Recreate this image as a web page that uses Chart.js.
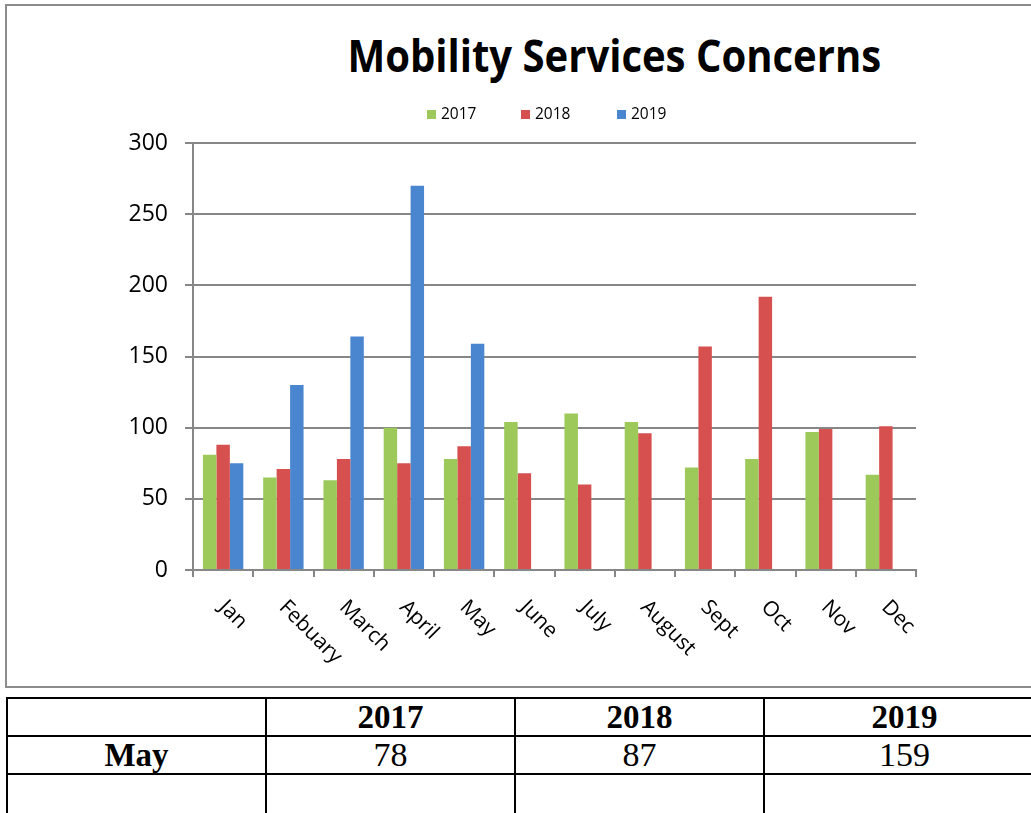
<!DOCTYPE html>
<html>
<head>
<meta charset="utf-8">
<script src="https://cdn.jsdelivr.net/npm/chart.js@4.4.1/dist/chart.umd.min.js"></script>
<style>
  html, body { margin: 0; padding: 0; background: #fff; overflow: hidden; }
  body { width: 1031px; height: 813px; position: relative; }
  #frame { position: absolute; left: 5px; top: 4px; width: 1040px; height: 684px; border: 2px solid #8c8c8c; box-sizing: border-box; }
  #title { position: absolute; left: 0; top: 25px; width: 1228px; text-align: center; font: bold 44px "Open Sans", sans-serif; color: #000; white-space: nowrap; }
  #title span { display: inline-block; transform-origin: center; }
  #box { position: absolute; left: 7px; top: 6px; width: 1024px; height: 682px; }
  table { position: absolute; left: 6px; top: 697px; width: 1040px; table-layout: fixed; border-collapse: collapse; font-family: "Liberation Serif", "Times New Roman", serif; }
  td { border: 2px solid #000; height: 36px; padding: 0; text-align: center; font-size: 34px; line-height: 34px; }
  td.h { font-weight: bold; font-size: 33px; }
</style>
</head>
<body>
<div id="frame"></div>
<div id="title"><span id="tt">Mobility Services Concerns</span></div>
<div id="box"><canvas id="chart"></canvas></div>
<table>
  <colgroup><col style="width:259px"><col style="width:249px"><col style="width:249px"><col></colgroup>
  <tr><td></td><td class="h">2017</td><td class="h">2018</td><td class="h">2019</td></tr>
  <tr><td class="h">May</td><td>78</td><td>87</td><td>159</td></tr>
  <tr><td style="height:40px"></td><td></td><td></td><td></td></tr>
</table>
<script>
const months = ['Jan', 'Febuary', 'March', 'April', 'May', 'June', 'July', 'August', 'Sept', 'Oct', 'Nov', 'Dec']
const years = ['2017', '2018', '2019']
const values2017 = [81, 65, 63, 100, 78, 104, 110, 104, 72, 78, 97, 67]
const values2018 = [88, 71, 78, 75, 87, 68, 60, 96, 157, 192, 99, 101]
const values2019 = [75, 130, 164, 270, 159, null, null, null, null, null, null, null]
const colors = ['#9cc95a', '#d6504f', '#4a86cf']
const yTicks = [0, 50, 100, 150, 200, 250, 300]

// squeeze the title to the width it has in the picture
const tt = document.getElementById('tt')
tt.style.transform = 'scaleX(' + (534 / tt.offsetWidth) + ')'

const axisGray = '#878787'

// legend drawn by hand so it can sit off-centre like the original
const legendPlugin = {
    id: 'oldLegend',
    afterDraw(chart) {
        const ctx = chart.ctx
        const starts = [420, 514, 610]
        ctx.save()
        ctx.font = '15.5px "Open Sans", sans-serif'
        ctx.textBaseline = 'middle'
        chart.data.datasets.forEach((ds, i) => {
            ctx.fillStyle = ds.backgroundColor
            ctx.fillRect(starts[i], 104, 9, 9)
            ctx.fillStyle = '#000'
            ctx.fillText(ds.label, starts[i] + 14, 109)
        })
        ctx.restore()
    }
}

// month labels slant down to the right from each category
const xLabelPlugin = {
    id: 'slantLabels',
    afterDraw(chart) {
        const ctx = chart.ctx
        const xs = chart.scales.x
        ctx.save()
        ctx.font = '21px "Open Sans", sans-serif'
        ctx.fillStyle = '#000'
        ctx.textAlign = 'left'
        ctx.textBaseline = 'middle'
        chart.data.labels.forEach((lab, i) => {
            const x = xs.getPixelForValue(i)
            ctx.save()
            ctx.translate(x - 1, xs.top + 34)
            ctx.rotate(Math.PI / 4)
            ctx.fillText(lab, 0, 0)
            ctx.restore()
        })
        ctx.restore()
    }
}

new Chart(document.getElementById('chart'), {
    type: 'bar',
    data: {
        labels: months,
        datasets: [
            { label: years[0], data: values2017, backgroundColor: colors[0] },
            { label: years[1], data: values2018, backgroundColor: colors[1] },
            { label: years[2], data: values2019, backgroundColor: colors[2] }
        ]
    },
    options: {
        responsive: true,
        maintainAspectRatio: false,
        animation: false,
        layout: { padding: { top: 137, right: 115, left: 0, bottom: 0 } },
        datasets: { bar: { categoryPercentage: 0.67, barPercentage: 1 } },
        plugins: { legend: { display: false }, title: { display: false }, tooltip: { enabled: false } },
        scales: {
            x: {
                grid: { display: true, drawOnChartArea: false, offset: true, color: axisGray, lineWidth: 2, tickLength: 7 },
                border: { color: axisGray, width: 2 },
                ticks: { display: false },
                afterFit(s) { s.height = 118 }
            },
            y: {
                min: 0,
                max: 300,
                afterBuildTicks(s) { s.ticks = yTicks.map(v => ({ value: v })) },
                grid: { color: axisGray, lineWidth: 2, tickLength: 8 },
                border: { color: axisGray, width: 2 },
                ticks: { color: '#000', font: { family: 'Open Sans', size: 23 }, padding: 17 },
                afterFit(s) { s.width = 186 }
            }
        }
    },
    plugins: [legendPlugin, xLabelPlugin]
})
</script>
</body>
</html>
